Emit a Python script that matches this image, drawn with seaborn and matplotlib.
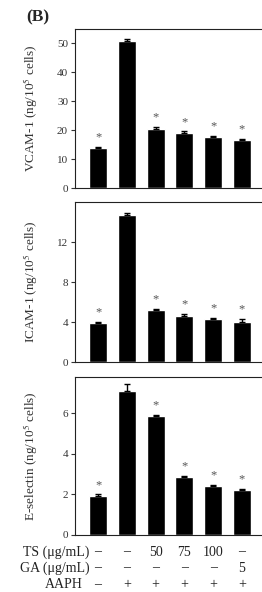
import numpy as np
import pandas as pd
import matplotlib
matplotlib.use("Agg")
import matplotlib.pyplot as plt
import matplotlib.transforms as mtransforms
import seaborn as sns

groups = ["1", "2", "3", "4", "5", "6"]
vcam = [14.0, 51.0, 20.5, 19.0, 17.5, 16.5]
vcam_err = [0.2, 0.4, 0.6, 0.6, 0.5, 0.6]
icam = [3.9, 14.7, 5.2, 4.6, 4.3, 4.0]
icam_err = [0.1, 0.2, 0.15, 0.25, 0.15, 0.3]
esel = [1.93, 7.13, 5.86, 2.84, 2.43, 2.23]
esel_err = [0.07, 0.3, 0.06, 0.07, 0.06, 0.04]
star = [True, False, True, True, True, True]

ts_row = ["–", "–", "50", "75", "100", "–"]
ga_row = ["–", "–", "–", "–", "–", "5"]
aaph_row = ["–", "+", "+", "+", "+", "+"]

sns.set_theme(style="ticks")
plt.rcParams["font.family"] = ["Liberation Serif", "DejaVu Serif"]
plt.rcParams["mathtext.fontset"] = "stix"

fig = plt.figure(figsize=(2.62, 5.92), dpi=100)

left = 75 / 262
width = 192 / 262
panels = [
    (vcam, vcam_err, 55, [0, 10, 20, 30, 40, 50], "VCAM-1 (ng/10$^{5}$ cells)", 188, 159),
    (icam, icam_err, 16, [0, 4, 8, 12], "ICAM-1 (ng/10$^{5}$ cells)", 362, 160),
    (esel, esel_err, 7.8, [0, 2, 4, 6], "E-selectin (ng/10$^{5}$ cells)", 535, 158),
]

axes = []
for vals, errs, ymax, ticks, label, bot, h in panels:
    ax = fig.add_axes([left, 1 - bot / 592, width, h / 592])
    df = pd.DataFrame({"group": groups, "value": vals})
    sns.barplot(data=df, x="group", y="value", color="black", saturation=1,
                width=0.63, errorbar=None, ax=ax)
    x = np.arange(len(groups))
    ax.errorbar(x, vals, yerr=[np.zeros(len(errs)), errs], fmt="none",
                ecolor="black", elinewidth=1, capsize=2.5, capthick=1)
    for xi, v, e, s in zip(x, vals, errs, star):
        if s:
            ax.annotate("*", (xi, v + e), xytext=(0, 2.5), textcoords="offset points",
                        ha="center", va="bottom", fontsize=9, color="#555555")
    ax.set_xlim(-0.8, 5.87)
    ax.set_ylim(0, ymax)
    ax.set_yticks(ticks)
    ax.tick_params(axis="y", labelsize=8, length=3, width=0.8, pad=2, colors="#333333")
    ax.tick_params(axis="x", length=0, labelbottom=False)
    ax.set_xlabel("")
    ax.set_ylabel(label, fontsize=9.5, color="#333333")
    ax.yaxis.set_label_coords(-0.18, 0.5)
    for sp in ["left", "top", "bottom"]:
        ax.spines[sp].set_visible(True)
        ax.spines[sp].set_linewidth(0.8)
        ax.spines[sp].set_color("#222222")
    ax.spines["right"].set_visible(False)
    axes.append(ax)

ax = axes[-1]
trans = mtransforms.blended_transform_factory(ax.transData, ax.transAxes)
rows = [("TS (μg/mL)", ts_row, -0.108, -0.3),
        ("GA (μg/mL)", ga_row, -0.209, -0.3),
        ("AAPH", aaph_row, -0.316, -0.52)]
for name, row, yy, lx in rows:
    ax.text(lx, yy, name, transform=trans, ha="right", va="center", fontsize=10,
            color="#222222", clip_on=False)
    for xi, t in enumerate(row):
        ax.text(xi, yy, t, transform=trans, ha="center", va="center", fontsize=10,
                color="#222222", clip_on=False)

fig.text(0.10, 1 - 17 / 592, "(B)", fontsize=12.5, fontweight="bold", va="center", ha="left")

fig.savefig("out.png", dpi=100)
